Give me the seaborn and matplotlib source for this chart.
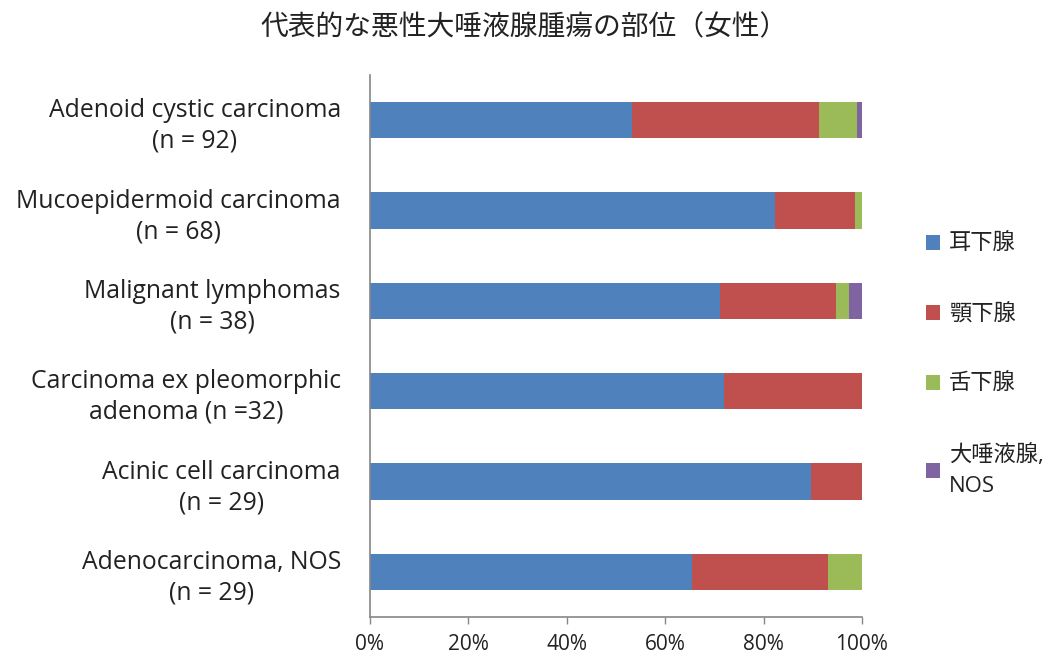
import matplotlib
matplotlib.use("Agg")
import matplotlib.pyplot as plt
import seaborn as sns
import pandas as pd
import numpy as np
from matplotlib.patches import Patch

categories = ["Adenoid cystic carcinoma\n(n = 92)",
              "Mucoepidermoid carcinoma\n(n = 68)",
              "Malignant lymphomas\n(n = 38)",
              "Carcinoma ex pleomorphic\nadenoma (n =32)",
              "Acinic cell carcinoma\n(n = 29)",
              "Adenocarcinoma, NOS\n(n = 29)"]
series_names = ["耳下腺", "顎下腺", "舌下腺", "大唾液腺,\nNOS"]
parotid = [53.3, 82.4, 71.1, 71.9, 89.7, 65.5]
submandibular = [38.0, 16.2, 23.7, 28.1, 10.3, 27.6]
sublingual = [7.6, 1.4, 2.6, 0.0, 0.0, 6.9]
major_nos = [1.1, 0.0, 2.6, 0.0, 0.0, 0.0]
xticks = [0, 20, 40, 60, 80, 100]
xticklabels = ["0%", "20%", "40%", "60%", "80%", "100%"]
colors = ["#4F81BD", "#C0504D", "#9BBB59", "#8064A2"]

sns.set_theme(style="white")
plt.rcParams['font.family'] = ['Open Sans', 'Noto Sans CJK JP', 'DejaVu Sans']

df = pd.DataFrame({"cat": categories, "s0": parotid, "s1": submandibular,
                   "s2": sublingual, "s3": major_nos})
vals = df[["s0", "s1", "s2", "s3"]].to_numpy()
cums = np.cumsum(vals, axis=1)

fig = plt.figure(figsize=(10.53, 6.56), dpi=100)
ax = fig.add_axes([370/1053, 1-617/656, 492/1053, 542/656])

for i in range(3, -1, -1):
    d = pd.DataFrame({"cat": categories, "v": cums[:, i]})
    sns.barplot(data=d, x="v", y="cat", color=colors[i], width=0.4,
                orient="h", ax=ax, saturation=1, edgecolor="none")

ax.set_xlim(0, 100)
ax.set_xticks(xticks)
ax.set_xticklabels(xticklabels, fontsize=15, color="#222222")
ax.set_xlabel("")
ax.set_ylabel("")
for lab in ax.get_yticklabels():
    lab.set_multialignment("center")
    lab.set_fontsize(17.8)
    lab.set_linespacing(1.3)
    lab.set_color("#222222")
ax.tick_params(axis="y", length=0, pad=21)
ax.tick_params(axis="x", length=5, color="#868686", width=1, bottom=True, direction="out", pad=7)
for s in ["top", "right"]:
    ax.spines[s].set_visible(False)
for s in ["left", "bottom"]:
    ax.spines[s].set_color("#868686")
    ax.spines[s].set_linewidth(1.2)

handles = [Patch(facecolor=c, edgecolor="none") for c in colors]
leg = fig.legend(handles, series_names, loc="upper left", bbox_to_anchor=(917/1053, 1-225/656),
                 frameon=False, fontsize=16, handlelength=0.65, handleheight=0.65,
                 handletextpad=0.4, labelspacing=2.2, borderaxespad=0)
for t in leg.get_texts():
    t.set_linespacing(1.6)
    t.set_color("#222222")

fig.text(0.4975, 1-28/656, "代表的な悪性大唾液腺腫瘍の部位（女性）", ha="center", va="center",
         fontsize=20, color="#222222")

fig.savefig("out.png", dpi=100)
